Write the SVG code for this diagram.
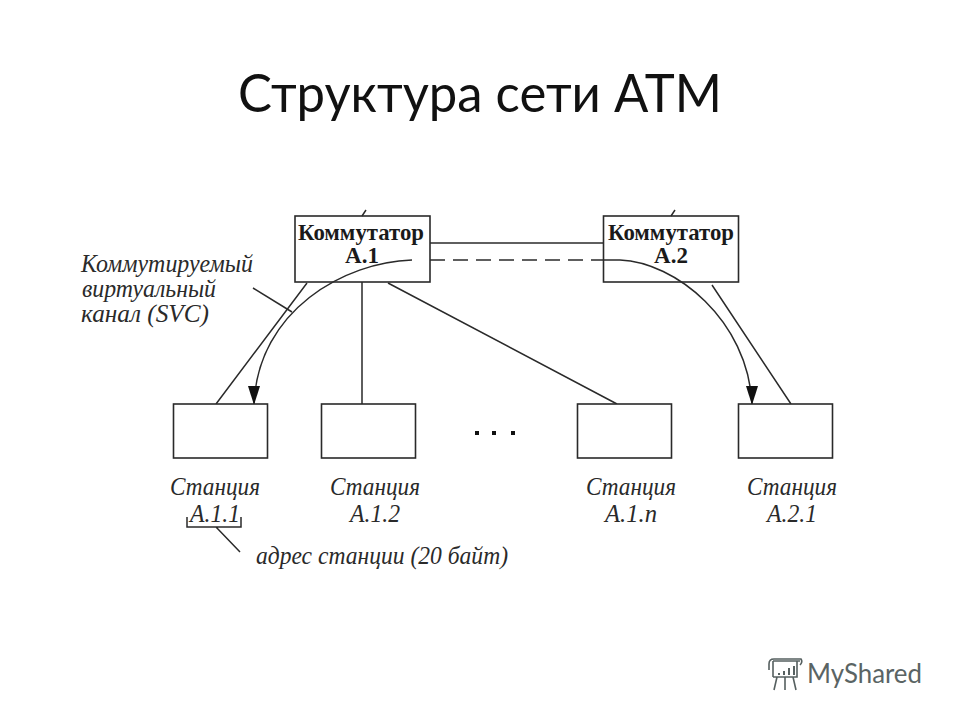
<svg xmlns="http://www.w3.org/2000/svg" width="960" height="720" viewBox="0 0 960 720">
<style>
.box{fill:#fff;stroke:#2a2a2a;stroke-width:1.6}
.open{fill:none}
.ln{fill:none;stroke:#2a2a2a;stroke-width:1.5}
.dash{stroke-dasharray:15 8}
.sw{font-family:"Liberation Serif",serif;font-weight:bold;font-size:23px;fill:#1a1a1a;text-anchor:middle}
.it{font-family:"Liberation Serif",serif;font-style:italic;font-size:25px;fill:#2a2a2a}
.mid{text-anchor:middle}
.logo{fill:none;stroke:#566060;stroke-width:1.6}
</style>
<rect width="960" height="720" fill="#fff"/>
<text id="title" x="238" y="112" font-family="Lato,'Open Sans',sans-serif" font-size="52" fill="#111" textLength="484" lengthAdjust="spacingAndGlyphs">Структура сети ATM</text>
<g id="connectors">
<path class="ln" d="M430 243H603"/>
<path class="ln" d="M362 282V404M307 283L216 404M388 283L617 404M712 285L791 404"/>
<path class="ln" d="M362 216L366 210M671 216L675 210"/>
<path class="ln dash" d="M430 260H603"/>
<path class="ln" d="M412 260C345 262 258 310 254 404"/>
<path class="ln" d="M603 260H620C675 262 748 320 752 404"/>
<path d="M248 386H260L254 405Z" fill="#111"/>
<path d="M746 386H758L752 405Z" fill="#111"/>
<path class="ln" d="M253 288L292 312"/>
<path class="ln" d="M187 517V527H241V517M216 527L240 552"/>
</g>
<g id="node-a1"><rect class="box open" x="295" y="216" width="135" height="66"/><text class="sw" x="361" y="240" textLength="126" lengthAdjust="spacingAndGlyphs">Коммутатор</text><text class="sw" x="362" y="263">A.1</text></g>
<g id="node-a2"><rect class="box open" x="603.500" y="216" width="135" height="66"/><text class="sw" x="671" y="240" textLength="126" lengthAdjust="spacingAndGlyphs">Коммутатор</text><text class="sw" x="671" y="263">A.2</text></g>
<g id="station-a11"><rect class="box" x="173.500" y="404" width="94" height="54"/><text class="it mid" x="215" y="495" textLength="90" lengthAdjust="spacingAndGlyphs">Станция</text><text class="it mid" x="215" y="522" textLength="50" lengthAdjust="spacingAndGlyphs">A.1.1</text></g>
<g id="station-a12"><rect class="box" x="321.500" y="404" width="94" height="54"/><text class="it mid" x="375" y="495" textLength="90" lengthAdjust="spacingAndGlyphs">Станция</text><text class="it mid" x="375" y="522" textLength="50" lengthAdjust="spacingAndGlyphs">A.1.2</text></g>
<g id="station-a1n"><rect class="box" x="577.500" y="404" width="94" height="54"/><text class="it mid" x="631" y="495" textLength="90" lengthAdjust="spacingAndGlyphs">Станция</text><text class="it mid" x="631" y="522" textLength="52" lengthAdjust="spacingAndGlyphs">A.1.n</text></g>
<g id="station-a21"><rect class="box" x="738.500" y="404" width="94" height="54"/><text class="it mid" x="792" y="495" textLength="90" lengthAdjust="spacingAndGlyphs">Станция</text><text class="it mid" x="792" y="522" textLength="50" lengthAdjust="spacingAndGlyphs">A.2.1</text></g>
<g id="dots" fill="#111"><rect x="475" y="431" width="4" height="4"/><rect x="492" y="431" width="4" height="4"/><rect x="511" y="431" width="4" height="4"/></g>
<g id="svc-label">
<text class="it" x="81" y="272" textLength="172" lengthAdjust="spacingAndGlyphs">Коммутируемый</text>
<text class="it" x="82" y="297" textLength="134" lengthAdjust="spacingAndGlyphs">виртуальный</text>
<text class="it" x="81" y="322" textLength="128" lengthAdjust="spacingAndGlyphs">канал (SVC)</text>
</g>
<text id="address-label" class="it" x="256" y="564" textLength="252" lengthAdjust="spacingAndGlyphs">адрес станции (20 байт)</text>
<g id="logo">
<path class="logo" d="M773 661H800M773 677V661M797 661V677H773M777 677L774 690M785 677V690M793 677L796 690"/>
<path class="logo" d="M769 670V664Q769 659 774 659H801Q803 662 800 665"/>
<path d="M778 673h2v2h-2zM783 671h2v4h-2zM788 668h2v7h-2zM793 666h2v9h-2z" fill="#566060"/>
<text x="807" y="683" font-family="Lato,sans-serif" font-size="27" fill="#5a6464" textLength="115" lengthAdjust="spacingAndGlyphs">MyShared</text>
</g>
</svg>
